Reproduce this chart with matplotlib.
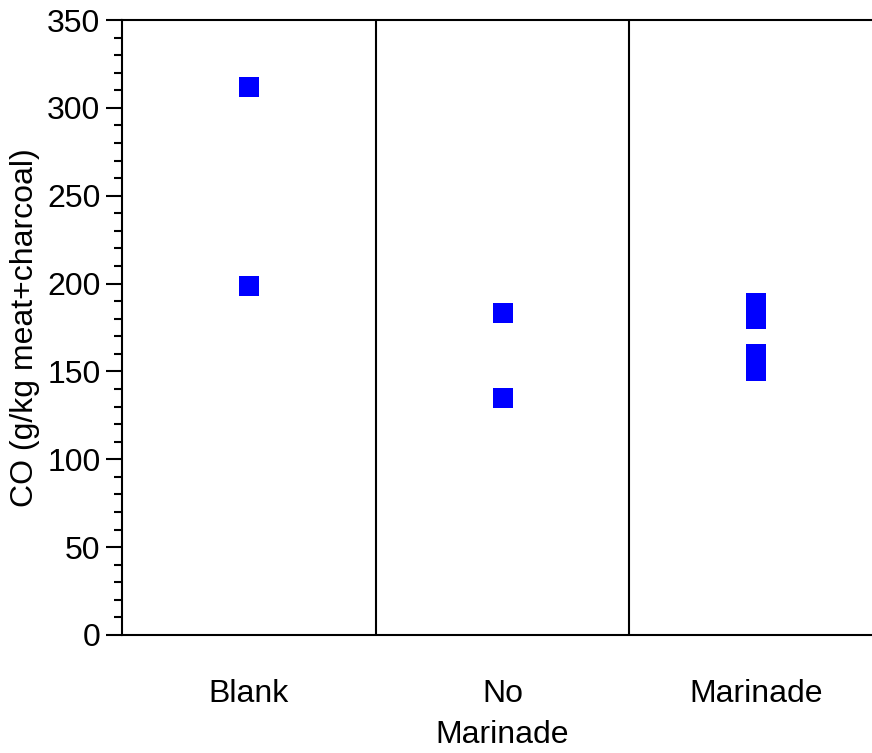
import matplotlib
matplotlib.use("Agg")
import matplotlib.pyplot as plt

plt.rcParams['font.family'] = ['Liberation Sans', 'DejaVu Sans']

# category labels and measured CO values
categories = ['Blank', 'No\nMarinade', 'Marinade']
blank_co = [312, 198.5]
no_marinade_co = [183, 134.7]
marinade_co = [189.2, 180.1, 160.2, 150.0]
groups = [blank_co, no_marinade_co, marinade_co]

W, H = 872, 753
fig = plt.figure(figsize=(W / 100, H / 100), dpi=100)
# axes runs a little past the right edge of the figure, as in the reference
ax = fig.add_axes([122 / W, (H - 635) / H, (883 - 122) / W, (635 - 20) / H])

for i, vals in enumerate(groups):
    ax.plot([i + 0.5] * len(vals), vals, linestyle='none', marker='s',
            markersize=15, color='#0000ff', markeredgewidth=0)

for sep in [1, 2]:
    ax.axvline(sep, color='black', linewidth=1.5)

ax.set_xlim(0, 3)
ax.set_ylim(0, 350)
ax.set_xticks([0.5, 1.5, 2.5])
ax.set_xticklabels(categories, fontsize=23, linespacing=1.45, va='top')
ax.tick_params(axis='x', length=0, pad=32)
ax.set_yticks(range(0, 351, 50))
ax.set_yticks(range(0, 351, 10), minor=True)
ax.tick_params(axis='y', which='major', length=11.5, width=1.5, labelsize=23, pad=4)
ax.tick_params(axis='y', which='minor', length=5.8, width=1.5)
ax.set_ylabel('CO (g/kg meat+charcoal)', fontsize=23, labelpad=5)

for s in ax.spines.values():
    s.set_linewidth(1.5)

fig.savefig('out.png', dpi=100)
